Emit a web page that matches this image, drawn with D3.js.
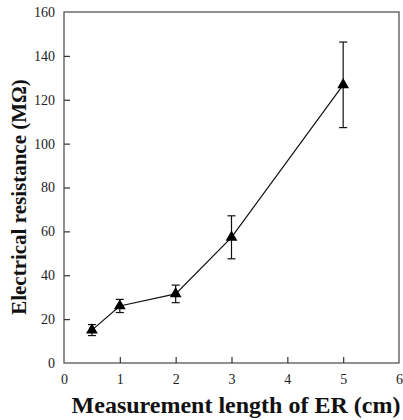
<!DOCTYPE html>
<html><head><meta charset="utf-8">
<script src="https://cdn.jsdelivr.net/npm/d3@7"></script>
<style>body{margin:0;background:#fff}svg{display:block}</style>
</head><body>
<svg id="c" width="403" height="420"></svg>
<script>
const lengths = [0.5, 1, 2, 3, 5];
const resistance = [15, 26, 31.5, 57.3, 126.8];
const errors = [2.5, 3, 4, 9.8, 19.5];
const xTicks = [0, 1, 2, 3, 4, 5, 6];
const yTicks = [0, 20, 40, 60, 80, 100, 120, 140, 160];

const svg = d3.select("#c");
const L = 64, R = 399, T = 12, B = 363;
const x = d3.scaleLinear().domain([0, 6]).range([L, R]);
const y = d3.scaleLinear().domain([0, 160]).range([B, T]);
const font = "'Liberation Serif', 'Times New Roman', serif";

// frame
svg.append("rect").attr("x", L).attr("y", T).attr("width", R - L).attr("height", B - T)
  .attr("fill", "none").attr("stroke", "#555").attr("stroke-width", 1.3);

const yAxis = svg.append("g").attr("transform", `translate(${L},0)`)
  .call(d3.axisLeft(y).tickValues(yTicks).tickFormat(d3.format("d")).tickSizeInner(-6).tickSizeOuter(0).tickPadding(9));
const xAxis = svg.append("g").attr("transform", `translate(0,${B})`)
  .call(d3.axisBottom(x).tickValues(xTicks).tickFormat(d3.format("d")).tickSizeInner(-6).tickSizeOuter(0).tickPadding(11));
[yAxis, xAxis].forEach(a => {
  a.attr("font-family", font).attr("font-size", 14);
  a.select(".domain").remove();
  a.selectAll("line").attr("stroke", "#333").attr("stroke-width", 1.2);
  a.selectAll("text").style("font-family", font).style("font-size", "14px").attr("fill", "#222");
});
// remove ticks on frame ends
yAxis.selectAll(".tick").filter(d => d === 0 || d === 160).select("line").remove();
xAxis.selectAll(".tick").filter(d => d === 0 || d === 6).select("line").remove();

const data = lengths.map((l, i) => ({x: l, y: resistance[i], e: errors[i]}));

// line
svg.append("path").datum(data)
  .attr("d", d3.line().x(d => x(d.x)).y(d => y(d.y)))
  .attr("fill", "none").attr("stroke", "#111").attr("stroke-width", 1.2);

// error bars
const eb = svg.append("g").attr("stroke", "#111").attr("stroke-width", 1.2);
data.forEach(d => {
  eb.append("line").attr("x1", x(d.x)).attr("x2", x(d.x)).attr("y1", y(d.y - d.e)).attr("y2", y(d.y + d.e));
  [d.y - d.e, d.y + d.e].forEach(v => {
    eb.append("line").attr("x1", x(d.x) - 4).attr("x2", x(d.x) + 4).attr("y1", y(v)).attr("y2", y(v));
  });
});

// markers
svg.append("g").selectAll("path").data(data).join("path")
  .attr("transform", d => `translate(${x(d.x)},${y(d.y)})`)
  .attr("d", d3.symbol(d3.symbolTriangle, 60))
  .attr("fill", "#000");

// titles
svg.append("text").attr("x", 236).attr("y", 413).attr("text-anchor", "middle")
  .style("font-family", font).attr("font-weight", "bold").style("font-size", "24px").attr("fill", "#111")
  .text("Measurement length of ER (cm)");
svg.append("text").attr("transform", "translate(26,197) rotate(-90)").attr("text-anchor", "middle")
  .style("font-family", font).attr("font-weight", "bold").style("font-size", "21px").attr("fill", "#111")
  .text("Electrical resistance (MΩ)");
</script>
</body></html>
